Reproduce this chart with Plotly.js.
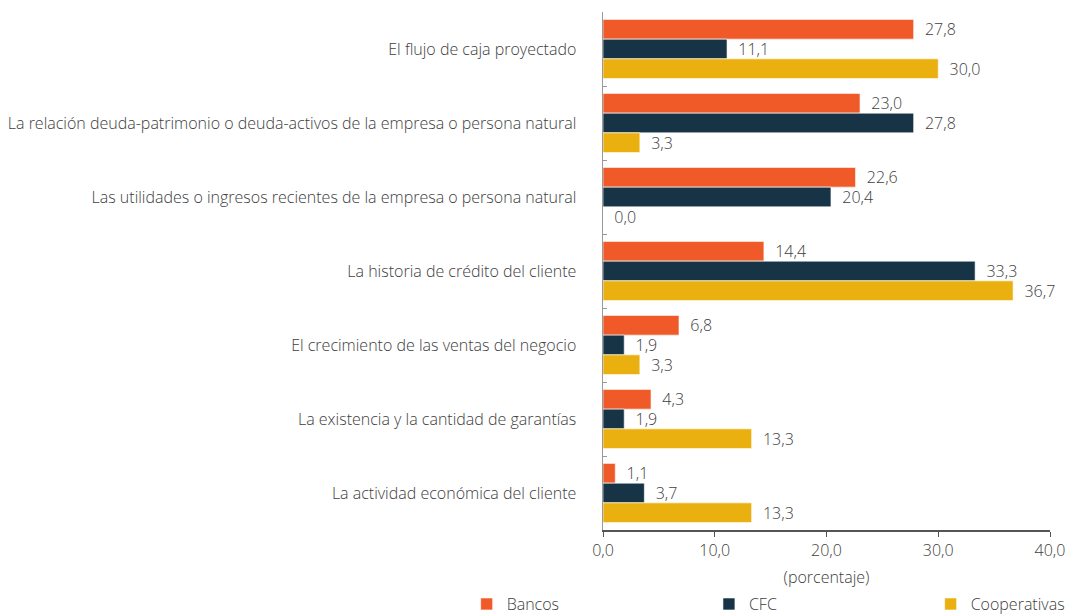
<!DOCTYPE html>
<html><head><meta charset="utf-8">
<script src="https://cdn.plot.ly/plotly-3.0.1.min.js"></script>
<style>html,body{margin:0;padding:0;background:#fff}#chart{width:1068px;height:614px}</style>
</head><body><div id="chart"></div>
<script>
const categories = [
  "El flujo de caja proyectado",
  "La relación deuda-patrimonio o deuda-activos de la empresa o persona natural",
  "Las utilidades o ingresos recientes de la empresa o persona natural",
  "La historia de crédito del cliente",
  "El crecimiento de las ventas del negocio",
  "La existencia y la cantidad de garantías",
  "La actividad económica del cliente"
];
const bancos = [27.8, 23.0, 22.6, 14.4, 6.8, 4.3, 1.1];
const cfc = [11.1, 27.8, 20.4, 33.3, 1.9, 1.9, 3.7];
const cooperativas = [30.0, 3.3, 0.0, 36.7, 3.3, 13.3, 13.3];
const seriesNames = ["Bancos", "CFC", "Cooperativas"];
const colors = ["#F05A28", "#173447", "#EAB010"];
const tickVals = [0, 10, 20, 30, 40];

const font = {family: "Open Sans", size: 16, color: "#404040", weight: 300};
const fmt = v => "  " + v.toFixed(1).replace(".", ",");
const series = [bancos, cfc, cooperativas];
const traces = series.map((vals, i) => ({
  type: "bar", orientation: "h", name: seriesNames[i],
  x: vals, y: categories,
  marker: {color: colors[i], line: {color: "rgba(255,255,255,0.6)", width: 1}},
  text: vals.map(fmt), textposition: "outside", cliponaxis: false, constraintext: "none",
  textfont: font, outsidetextfont: font,
  legend: i === 0 ? "legend" : "legend" + (i + 1),
  hoverinfo: "x+name"
}));

const legBase = {orientation: "h", font: font,
  yanchor: "middle", y: -0.143, xanchor: "left", bgcolor: "rgba(0,0,0,0)", itemwidth: 30};
const layout = {
  width: 1068, height: 614,
  margin: {l: 603, r: 18, t: 12, b: 84, autoexpand: false},
  paper_bgcolor: "#fff", plot_bgcolor: "#fff",
  font: font, separators: ",.",
  barmode: "group", bargap: 0.2, bargroupgap: 0,
  xaxis: {range: [0, 40], tickvals: tickVals, tickformat: ".1f", automargin: false,
    showgrid: false, zeroline: false, showline: true, linecolor: "#555", linewidth: 1.5,
    ticks: "outside", ticklen: 5, tickcolor: "#555", tickfont: font,
    title: {text: "(porcentaje)", font: font, standoff: 12}},
  yaxis: {autorange: "reversed", showgrid: false, zeroline: false, showline: true, automargin: false,
    linecolor: "#999", linewidth: 1.5, ticks: "inside", ticklen: 4, tickcolor: "#999",
    tickson: "boundaries", ticklabelstandoff: 22, tickfont: font},
  showlegend: true,
  legend: Object.assign({}, legBase, {x: -0.305}),
  legend2: Object.assign({}, legBase, {x: 0.237}),
  legend3: Object.assign({}, legBase, {x: 0.733})
};
Plotly.newPlot("chart", traces, layout, {displayModeBar: false, staticPlot: true});
</script></body></html>
